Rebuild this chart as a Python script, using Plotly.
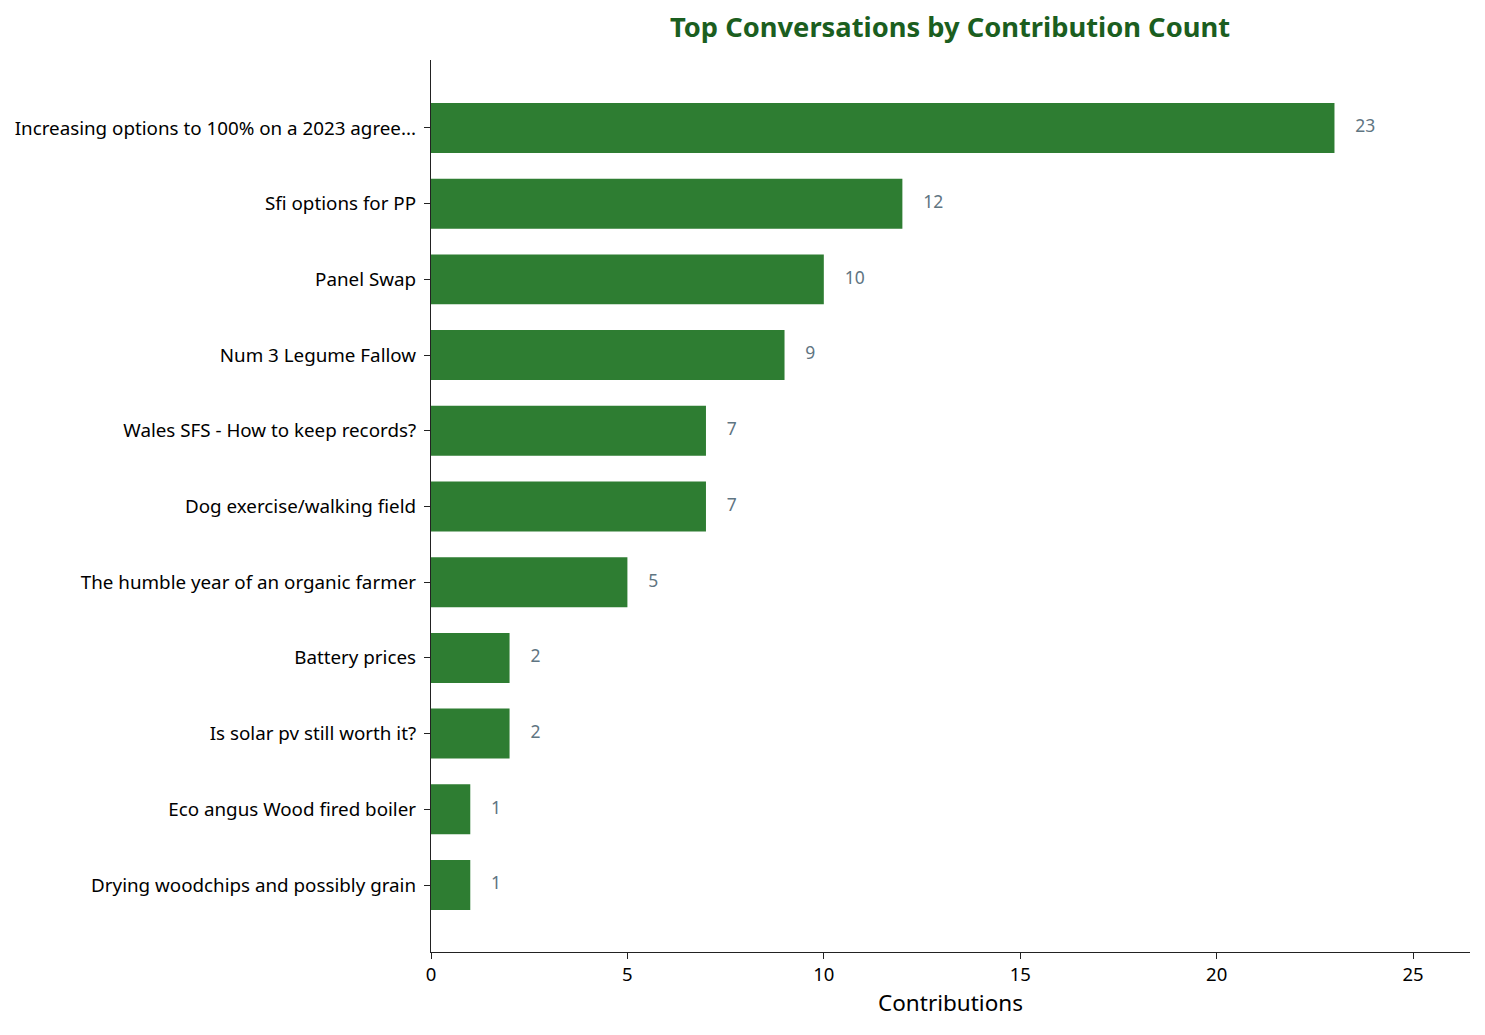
import plotly.graph_objects as go

# Conversation titles (top to bottom) and their contribution counts
topics = [
    "Increasing options to 100% on a 2023 agree...",
    "Sfi options for PP",
    "Panel Swap",
    "Num 3 Legume Fallow",
    "Wales SFS - How to keep records?",
    "Dog exercise/walking field",
    "The humble year of an organic farmer",
    "Battery prices",
    "Is solar pv still worth it?",
    "Eco angus Wood fired boiler",
    "Drying woodchips and possibly grain",
]
contributions = [23, 12, 10, 9, 7, 7, 5, 2, 2, 1, 1]

# plot bottom-up so the biggest sits on top
y_pos = list(range(len(topics)))[::-1]

fig = go.Figure()

fig.add_trace(go.Bar(
    x=contributions, y=y_pos, orientation='h',
    width=0.66,
    marker=dict(color='#2e7d32', line=dict(width=0)),
    hoverinfo='x+text', hovertext=topics,
    showlegend=False,
))

# value labels just past the end of each bar
fig.add_trace(go.Scatter(
    x=[c + 0.53 for c in contributions], y=y_pos,
    mode='text', text=[str(c) for c in contributions],
    textposition='middle right',
    textfont=dict(family='Noto Sans', size=17.5, color='#5f7582'),
    showlegend=False, hoverinfo='skip',
))

# page body has an 8px margin, so the figure is 16px smaller than the window
fig.update_layout(
    width=1469, height=1019,
    paper_bgcolor='white', plot_bgcolor='white',
    margin=dict(l=423, r=7, t=52, b=75),
    font=dict(family='Noto Sans', color='black'),
    title=dict(
        text='<b>Top Conversations by Contribution Count</b>',
        x=942 / 1469, xanchor='center',
        y=1 - 19 / 1019, yanchor='middle',
        font=dict(family='Noto Sans', size=27.3, color='#1b5e20'),
    ),
    xaxis=dict(
        range=[0, max(contributions) * 1.15],
        tickvals=[0, 5, 10, 15, 20, 25],
        showgrid=False, zeroline=False,
        showline=True, linecolor='#222', linewidth=1.3,
        ticks='outside', ticklen=6, tickcolor='#222',
        tickfont=dict(size=18.5),
        title=dict(text='Contributions', font=dict(size=22.5), standoff=9),
    ),
    yaxis=dict(
        range=[-0.885, len(topics) - 1 + 0.898],
        tickvals=y_pos, ticktext=topics,
        showgrid=False, zeroline=False,
        showline=True, linecolor='#222', linewidth=1.3,
        ticks='outside', ticklen=6, tickcolor='#222',
        ticklabelstandoff=4,
        tickfont=dict(size=18.8),
    ),
)

fig.write_html("out.html")
